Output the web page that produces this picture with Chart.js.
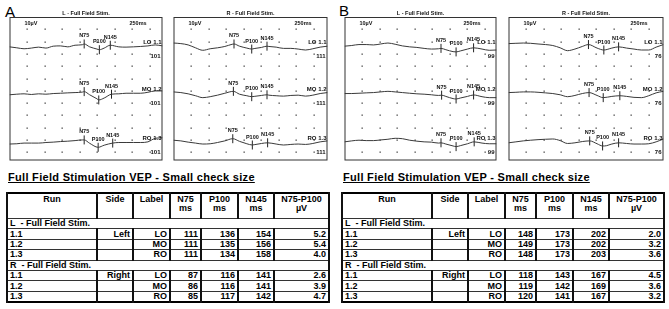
<!DOCTYPE html>
<html lang="en">
<head>
<meta charset="UTF-8" />
<title>Full Field Stimulation VEP</title>
<script src="https://cdn.jsdelivr.net/npm/chart.js@4.4.0/dist/chart.umd.min.js"></script>
<style>
  body { margin: 0; width: 669px; height: 309px; background: #fff; position: relative; overflow: hidden;
         font-family: "Liberation Sans", Arial, sans-serif; color: #000; }
  .letter { position: absolute; font-size: 15px; line-height: 15px; }
  canvas { position: absolute; }
  .heading { position: absolute; font-weight: bold; font-size: 11px; letter-spacing: 0.3px;
             text-decoration: underline; white-space: nowrap; line-height: 12px; }
  table.res { position: absolute; border-collapse: collapse; table-layout: fixed; width: 322px;
              font-weight: bold; font-size: 9px; line-height: 9px; border: 2px solid #000; }
  table.res td, table.res th { border-top: 1px solid #333; border-bottom: 1px solid #333;
              border-left: 2px solid #111; border-right: 2px solid #111;
              padding: 0 2px; overflow: hidden; white-space: nowrap; }
  table.res th { height: 23px; text-align: center; vertical-align: top; padding-top: 1px; }
  table.res td { height: 9.4px; text-align: right; }
  table.res td.run, table.res td.sec { text-align: left; }
</style>
</head>
<body>
  <div class="letter" style="left:5px;top:4px;">A</div>
  <div class="letter" style="left:339px;top:3px;">B</div>

  <canvas id="aLeft" width="164" height="160" style="left:4px;top:6px;"></canvas>
  <canvas id="aRight" width="165" height="160" style="left:168px;top:6px;"></canvas>
  <canvas id="bLeft" width="163" height="160" style="left:339px;top:6px;"></canvas>
  <canvas id="bRight" width="166" height="160" style="left:503px;top:6px;"></canvas>

  <div class="heading" style="left:8px;top:171px;">Full Field Stimulation VEP - Small check size</div>
  <div class="heading" style="left:343px;top:171px;">Full Field Stimulation VEP - Small check size</div>

  <table class="res" id="tabA" style="left:6px;top:192px;"></table>
  <table class="res" id="tabB" style="left:341px;top:192px;"></table>

<script>
  // sweep sample times (ms) shared by all traces
  const timesMs = [-12, 0, 12, 24, 36, 48, 60, 72, 84, 96, 108, 120, 132, 144, 156, 168, 180, 192, 204, 216, 228, 240];

  // trace deflections (one value per sample time)
  const ampA_L1 = [-0.7, -1.7, -2.7, -2, -1, -2, 0, 0.3, -0.7, 1, 1.5, -0.7, -3, -2, 0.5, -0.7, -1, -0.7, -0.3, 0.3, 1.3, 0.3];
  const ampA_L2 = [-1.3, -0.7, -0.3, -1, -0.3, -0.7, 0, 0.3, 0.7, 1, 1.5, -1.3, -5.5, -4.7, -1, -0.3, 0.3, 0.3, 0.3, 1.3, 2.7, 2.7];
  const ampA_L3 = [-2.3, -2, -1.3, -1.3, -1.3, -0.7, -0.3, 0.3, 0.7, 1.3, 2, -1.5, -5.3, -3.5, -1.3, -0.7, -0.7, -0.7, -0.7, 0, 3.7, 4.3];
  const ampA_R1 = [3.3, 2.7, 1.3, -1.7, -4.3, -2.7, -1.7, -0.3, 2, 0, -2, -2.5, -1.3, -0.3, -1, -2.3, -2.3, -3, -4, -2.7, -1, 0];
  const ampA_R2 = [1.7, 1, -0.3, -2.3, -4.3, -3.3, -1.7, 0.3, 2, -0.7, -2.3, -3, -2, -1.7, -2.3, -2.7, -2, -1.7, -2.7, -1.7, 0, 1];
  const ampA_R3 = [1.7, 1, -0.3, -1.3, -2.3, -2, -0.7, 1, 3, 0.5, -2, -3, -1.7, -1.3, -2.3, -3.3, -2.7, -2.3, -2.7, -1.7, 0, 1];
  const ampB_L1 = [0, 0.7, 1.7, 1.7, 1.3, 2.3, 3.3, 2, 0.3, -0.7, -1.3, -2.3, -3, -2.7, -3.7, -5.7, -5, -3, -1.7, -3, -4.3, -4];
  const ampB_L2 = [0, 0, 0.3, 0.7, 1, 1.7, 2.3, 1.7, 1, 0.3, -0.3, -0.7, -1.3, -2, -3, -5.3, -4.7, -3, -1.7, -3.3, -4.3, -4.3];
  const ampB_L3 = [0, 1, 1.7, 1.3, 1.3, 2, 2.7, 3.7, 3.3, 1.7, 0.7, 0, -0.3, -1.3, -2.3, -4.3, -4, -2, 0, -1.3, -2, -2];
  const ampB_R1 = [2.7, 3, 3.3, 3, 2.3, 1.7, 0.7, -1.7, -4.7, -3, -0.3, 1.3, -2, -4, -2, -0.7, -2, -3, -4, -4, -1, 1.7];
  const ampB_R2 = [1, 1.3, 1.7, 1.7, 1.3, 0.7, 0, -1.3, -3.3, -2, 0, 0.7, -2, -4.3, -3, -2.3, -3, -4, -4.3, -2.3, 0.7, 2.3];
  const ampB_R3 = [-1, 0, 1, 1.7, 2.3, 2.7, 3, 1.3, -1.7, -1, 0.3, 0.7, -2, -4.3, -2.3, -1, -1.7, -2.3, -2.3, -2, 0, 3];

  // deflection at the marked peaks [N75, P100, N145]
  const peakA_L = [[2.3, -3.7, 1], [2, -6.7, -0.7], [2, -5.7, -1.3]];
  const peakA_R = [[2.3, -3, 0], [2.3, -3.3, -1.3], [3.3, -3.3, -1]];
  const peakB_L = [[-2.3, -6, -1.7], [-1.7, -5.7, -1.5], [-1, -5, 0]];
  const peakB_R = [[1.7, -4, -0.7], [1, -4.3, -2.3], [1, -4.3, -1]];

  // table values
  const runIds = ["1.1", "1.2", "1.3"];
  const chanLabels = ["LO", "MO", "RO"];
  const n75A_L = [111, 111, 111], p100A_L = [136, 135, 134], n145A_L = [154, 156, 158], ampTabA_L = ["5.2", "5.4", "4.0"];
  const n75A_R = [87, 86, 85], p100A_R = [116, 116, 117], n145A_R = [141, 141, 142], ampTabA_R = ["2.6", "3.9", "4.7"];
  const n75B_L = [148, 149, 148], p100B_L = [173, 173, 173], n145B_L = [202, 202, 203], ampTabB_L = ["2.0", "3.2", "3.6"];
  const n75B_R = [118, 119, 120], p100B_R = [143, 142, 141], n145B_R = [167, 169, 167], ampTabB_R = ["4.5", "3.6", "3.2"];

  const traceBase = [119.5, 70, 19.5];
  const peakNames = ["N75", "P100", "N145"];
  const FONT = '"Liberation Sans", Arial, sans-serif';

  const vepDecor = {
    id: "vepDecor",
    beforeDatasetsDraw(chart, args, opts) {
      const { ctx, chartArea: a } = chart;
      ctx.save();
      ctx.fillStyle = "#444";
      for (let x = a.left + 17.5; x < a.right - 2; x += 17.5) {
        for (let y = a.top + 12.3; y < a.bottom - 2; y += 12.3) {
          ctx.fillRect(Math.round(x) - 0.5, Math.round(y) - 0.5, 1.3, 1.3);
        }
      }
      ctx.restore();
    },
    afterDraw(chart, args, opts) {
      const { ctx, chartArea: a, scales } = chart;
      ctx.save();
      ctx.strokeStyle = "#333";
      ctx.lineWidth = 1;
      ctx.strokeRect(a.left + 0.5, a.top + 0.5, a.right - a.left - 1, a.bottom - a.top - 1);
      ctx.fillStyle = "#111";
      ctx.font = "bold 5.5px " + FONT;
      ctx.textAlign = "center";
      ctx.textBaseline = "middle";
      ctx.fillText(opts.title, (a.left + a.right) / 2, a.top - 4);
      ctx.textAlign = "left";
      ctx.fillText("10\u00b5V", a.left + 15, a.top + 6);
      ctx.fillText("250ms", a.right - 33, a.top + 6);
      ctx.font = "bold 6px " + FONT;
      ctx.textAlign = "right";
      traceBase.forEach((b, k) => {
        const y = scales.y.getPixelForValue(b);
        ctx.fillText(chanLabels[k] + " " + runIds[k], a.right - 1, y - 4);
        ctx.fillText(opts.count, a.right - 2, y + 10);
      });
      ctx.font = "bold 5.5px " + FONT;
      ctx.textAlign = "center";
      chart.data.datasets.forEach((ds, i) => {
        if (!ds.peakNames) return;
        chart.getDatasetMeta(i).data.forEach((pt, j) => {
          ctx.fillText(ds.peakNames[j], pt.x, pt.y - 8);
        });
      });
      ctx.restore();
    }
  };

  function makePanel(id, title, count, n75, p100, n145, amps, peaks) {
    const datasets = [];
    for (let k = 0; k < 3; k++) {
      const base = traceBase[k];
      const lats = [n75[k], p100[k], n145[k]];
      const pts = timesMs
        .map((t, i) => ({ x: t, y: base + amps[k][i] }))
        .filter(p => lats.every(l => Math.abs(l - p.x) > 2.5));
      const peakPts = lats.map((l, j) => ({ x: l, y: base + peaks[k][j] }));
      const line = pts.concat(peakPts).sort((p, q) => p.x - q.x);
      datasets.push({
        data: line, showLine: true, borderColor: "#3a3a3a", borderWidth: 1,
        pointRadius: 0, cubicInterpolationMode: "monotone"
      });
      datasets.push({
        data: peakPts, showLine: false, pointStyle: "line", rotation: 90, pointRadius: 4.5,
        borderColor: "#222", borderWidth: 1, peakNames: peakNames
      });
    }
    return new Chart(document.getElementById(id).getContext("2d"), {
      type: "scatter",
      data: { datasets },
      options: {
        responsive: false,
        animation: false,
        devicePixelRatio: 1,
        layout: { padding: { left: 1, right: 2, top: 11, bottom: 1 } },
        scales: {
          x: { type: "linear", min: -12, max: 240, display: false },
          y: { type: "linear", min: 0, max: 150, display: false }
        },
        plugins: {
          legend: { display: false },
          tooltip: { enabled: false },
          vepDecor: { title: title, count: count }
        }
      },
      plugins: [vepDecor]
    });
  }

  makePanel("aLeft", "L - Full Field Stim.", "101", n75A_L, p100A_L, n145A_L, [ampA_L1, ampA_L2, ampA_L3], peakA_L);
  makePanel("aRight", "R - Full Field Stim.", "111", n75A_R, p100A_R, n145A_R, [ampA_R1, ampA_R2, ampA_R3], peakA_R);
  makePanel("bLeft", "L - Full Field Stim.", "99", n75B_L, p100B_L, n145B_L, [ampB_L1, ampB_L2, ampB_L3], peakB_L);
  makePanel("bRight", "R - Full Field Stim.", "76", n75B_R, p100B_R, n145B_R, [ampB_R1, ampB_R2, ampB_R3], peakB_R);

  // result tables
  function buildTable(id, left, right) {
    const colW = [90, 36, 37, 31, 37, 36, 55];
    let html = "<colgroup>" + colW.map(w => '<col style="width:' + w + 'px">').join("") + "</colgroup>";
    html += "<tr><th>Run</th><th>Side</th><th>Label</th><th>N75<br>ms</th><th>P100<br>ms</th><th>N145<br>ms</th><th>N75-P100<br>\u00b5V</th></tr>";
    [["L", "Left", left], ["R", "Right", right]].forEach(([s, side, d]) => {
      html += '<tr><td class="sec" colspan="7">' + s + "&nbsp; - Full Field Stim.</td></tr>";
      for (let k = 0; k < 3; k++) {
        html += '<tr><td class="run">' + runIds[k] + "</td><td>" + (k === 0 ? side : "") + "</td><td>" +
          chanLabels[k] + "</td><td>" + d[0][k] + "</td><td>" + d[1][k] + "</td><td>" + d[2][k] +
          "</td><td>" + d[3][k] + "</td></tr>";
      }
    });
    document.getElementById(id).innerHTML = html;
  }
  buildTable("tabA", [n75A_L, p100A_L, n145A_L, ampTabA_L], [n75A_R, p100A_R, n145A_R, ampTabA_R]);
  buildTable("tabB", [n75B_L, p100B_L, n145B_L, ampTabB_L], [n75B_R, p100B_R, n145B_R, ampTabB_R]);
</script>
</body>
</html>
